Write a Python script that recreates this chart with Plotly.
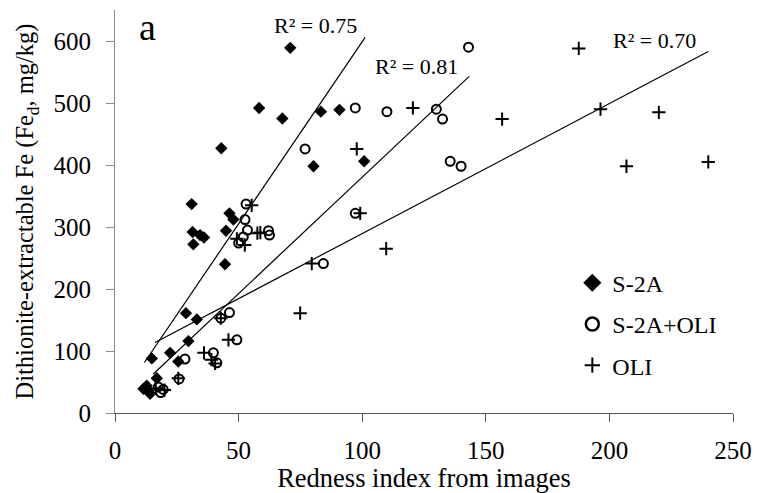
import plotly.graph_objects as go

FONT = "Liberation Serif"

# ---- data ----
s2a_x = [11.5, 12.8, 13.5, 14.2, 14.9, 16.9, 22.3, 25.6, 28.7, 29.7, 31.0, 31.4, 31.7, 33.1,
         34.4, 36.0, 43.0, 44.5, 44.9, 46.3, 47.9, 58.3, 67.7, 70.9, 80.3, 83.3, 90.8, 100.8]
s2a_y = [39, 44, 36, 31, 88, 56, 97, 83, 161, 116, 337, 292, 272, 151,
         287, 283, 427, 240, 294, 322, 312, 492, 475, 589, 398, 486, 489, 406]

mix_x = [17.5, 18.5, 19.5, 25.9, 28.3, 39.8, 41.2, 42.8, 46.3, 49.3, 50.0, 51.9, 52.6, 53.0,
         53.6, 62.1, 62.5, 76.9, 84.3, 97.2, 97.2, 110.0, 130.0, 132.5, 135.6, 140.0, 143.0]
mix_y = [42, 33, 38, 55, 87, 97, 81, 153, 162, 118, 274, 284, 312, 337,
         295, 294, 287, 426, 241, 322, 492, 486, 490, 474, 406, 398, 590]

oli_x = [16.5, 20.0, 25.6, 36.0, 39.0, 40.5, 42.8, 45.9, 49.3, 52.5, 55.3, 57.6, 58.8, 74.9,
         79.6, 97.8, 99.2, 109.7, 120.5, 156.6, 187.6, 196.4, 206.9, 220.0, 240.0]
oli_y = [40, 37, 56, 97, 86, 80, 153, 118, 281, 271, 335, 290, 291, 161,
         241, 426, 322, 265, 492, 474, 588, 490, 398, 485, 405]

# trend lines (end points)
trend_s2a_x = [11.9, 101.2]
trend_s2a_y = [81.4, 605.8]
trend_mix_x = [15.5, 143.3]
trend_mix_y = [63.0, 543.0]
trend_oli_x = [16.2, 240.0]
trend_oli_y = [113.6, 583.0]

r2_labels = ["R² = 0.75", "R² = 0.81", "R² = 0.70"]
r2_x = [81.0, 122.0, 218.2]
r2_y = [624.7, 558.6, 600.4]

series_names = ["S-2A", "S-2A+OLI", "OLI"]

fig = go.Figure()

line_style = dict(color="black", width=1.2)
for tx, ty in [(trend_s2a_x, trend_s2a_y), (trend_mix_x, trend_mix_y), (trend_oli_x, trend_oli_y)]:
    fig.add_trace(go.Scatter(x=tx, y=ty, mode="lines", line=line_style,
                             showlegend=False, hoverinfo="skip"))

fig.add_trace(go.Scatter(x=oli_x, y=oli_y, mode="markers", showlegend=False,
                         marker=dict(symbol="cross-thin-open", size=9.5, color="black",
                                     line=dict(color="black", width=2))))
fig.add_trace(go.Scatter(x=mix_x, y=mix_y, mode="markers", showlegend=False,
                         marker=dict(symbol="circle-open", size=9, color="black",
                                     line=dict(color="black", width=2))))
fig.add_trace(go.Scatter(x=s2a_x, y=s2a_y, mode="markers", showlegend=False,
                         marker=dict(symbol="diamond", size=9.5, color="black",
                                     line=dict(width=0))))

# legend entries
leg_markers = [
    dict(symbol="diamond", size=14, color="black", line=dict(width=0)),
    dict(symbol="circle-open", size=13, color="black", line=dict(color="black", width=2.5)),
    dict(symbol="cross-thin-open", size=11, color="black", line=dict(color="black", width=2)),
]
for i, (name, mk) in enumerate(zip(series_names, leg_markers)):
    fig.add_trace(go.Scatter(x=[None], y=[None], mode="markers", name=name, marker=mk,
                             legendgroup=f"g{i}", legendrank=i + 1))

for t, x, y in zip(r2_labels, r2_x, r2_y):
    fig.add_annotation(x=x, y=y, text=t, showarrow=False,
                       font=dict(family=FONT, size=22, color="black"))

fig.add_annotation(x=13, y=622, text="a", showarrow=False,
                   font=dict(family=FONT, size=38, color="black"))

fig.update_layout(
    width=757, height=493,
    margin=dict(l=115, r=24, t=10, b=80),
    paper_bgcolor="white", plot_bgcolor="white",
    font=dict(family=FONT, size=24, color="black"),
    legend=dict(x=0.740, y=0.378, xanchor="left", yanchor="top",
                font=dict(family=FONT, size=24, color="black"),
                traceorder="grouped", tracegroupgap=7, bgcolor="rgba(0,0,0,0)"),
    xaxis=dict(range=[0, 250], dtick=50, showgrid=False, zeroline=False,
               showline=True, linecolor="#555555", linewidth=1,
               ticks="outside", ticklen=8, tickcolor="#555555", tickwidth=1,
               ticklabelstandoff=7, automargin=False,
               tickfont=dict(family=FONT, size=25, color="black"),
               title=dict(text="Redness index from images", standoff=13,
                          font=dict(family=FONT, size=26.5, color="black"))),
    yaxis=dict(range=[0, 650], dtick=100, showgrid=False, zeroline=False,
               showline=True, linecolor="#8c8c8c", linewidth=1,
               ticks="outside", ticklen=8, tickcolor="#8c8c8c", tickwidth=1,
               ticklabelstandoff=10, automargin=False,
               tickfont=dict(family=FONT, size=25, color="black"),
               title=dict(text="Dithionite-extractable Fe (Fe<sub>d</sub>, mg/kg)", standoff=12,
                          font=dict(family=FONT, size=24.5, color="black"))),
)

fig.write_html("out.html")
